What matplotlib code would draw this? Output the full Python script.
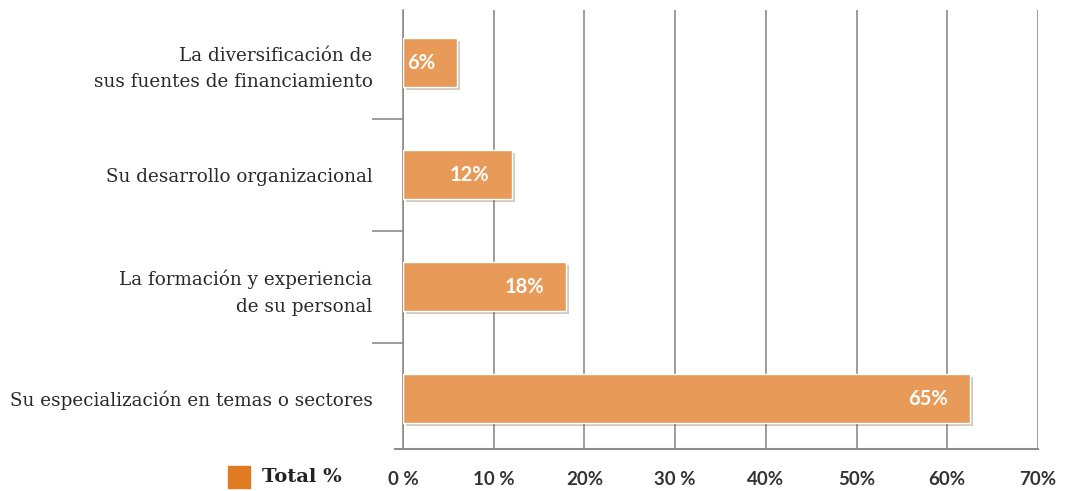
import matplotlib
matplotlib.use('Agg')
import matplotlib.pyplot as plt
import matplotlib.patheffects as pe
from matplotlib.patches import Rectangle

# datos (de abajo hacia arriba)
categorias = ['Su especialización en temas o sectores',
              'La formación y experiencia\nde su personal',
              'Su desarrollo organizacional',
              'La diversificación de\nsus fuentes de financiamiento']
valores = [62.5, 18, 12, 6]
etiquetas = ['65%', '18%', '12%', '6%']
ticks = [0, 10, 20, 30, 40, 50, 60, 70]
tick_labels = ['0 %', '10 %', '20%', '30 %', '40%', '50%', '60%', '70%']

naranja = '#e89b58'
gris = '#8c8c8c'

fig = plt.figure(figsize=(10.68, 4.91), dpi=100)
ax = fig.add_axes([403/1068, 1 - 449/491, 635/1068, 439/491])

pos = list(range(len(categorias)))
barras = ax.barh(pos, valores, height=0.44, color=naranja,
                 edgecolor='white', linewidth=1.0, zorder=3)
for b in barras:
    b.set_path_effects([pe.SimplePatchShadow(offset=(2, -2), alpha=0.25),
                        pe.Normal()])

for p, v, t in zip(pos, valores, etiquetas):
    ax.annotate(t, (v, p), xytext=(-16, 0), textcoords='offset points',
                ha='right', va='center', color='white', fontsize=14.5,
                fontweight='bold', family='Lato', zorder=4)

ax.set_xlim(0, 70)
ax.set_ylim(-0.45, 3.47)
ax.set_xticks(ticks)
ax.set_xticklabels(tick_labels, fontsize=13.5, fontweight='bold',
                   color='#333333', family='Lato')
ax.grid(axis='x', color=gris, linewidth=1.2, zorder=0)
ax.tick_params(axis='x', length=0, pad=16)

ax.set_yticks(pos)
ax.set_yticklabels(categorias, fontsize=13.2, family='DejaVu Serif',
                   color='#2a2a2a', linespacing=1.6)
ax.set_yticks([0.5, 1.5, 2.5], minor=True)
ax.tick_params(axis='y', which='major', length=0, pad=22)
ax.tick_params(axis='y', which='minor', length=22, color=gris, width=1.2)

for s in ['top', 'right']:
    ax.spines[s].set_visible(False)
ax.spines['left'].set_color(gris)
ax.spines['left'].set_linewidth(1.2)
ax.spines['bottom'].set_color(gris)
ax.spines['bottom'].set_linewidth(1.5)
ax.spines['bottom'].set_bounds(-0.9, 70)

# leyenda
fig.patches.append(Rectangle((228/1068, 1 - 488/491), 22/1068, 22/491,
                             transform=fig.transFigure, color='#e07b22'))
fig.text(262/1068, 1 - 477/491, 'Total %', fontsize=14, fontweight='bold',
         family='DejaVu Serif', color='#222222', va='center')

fig.savefig('out.png', dpi=100)
